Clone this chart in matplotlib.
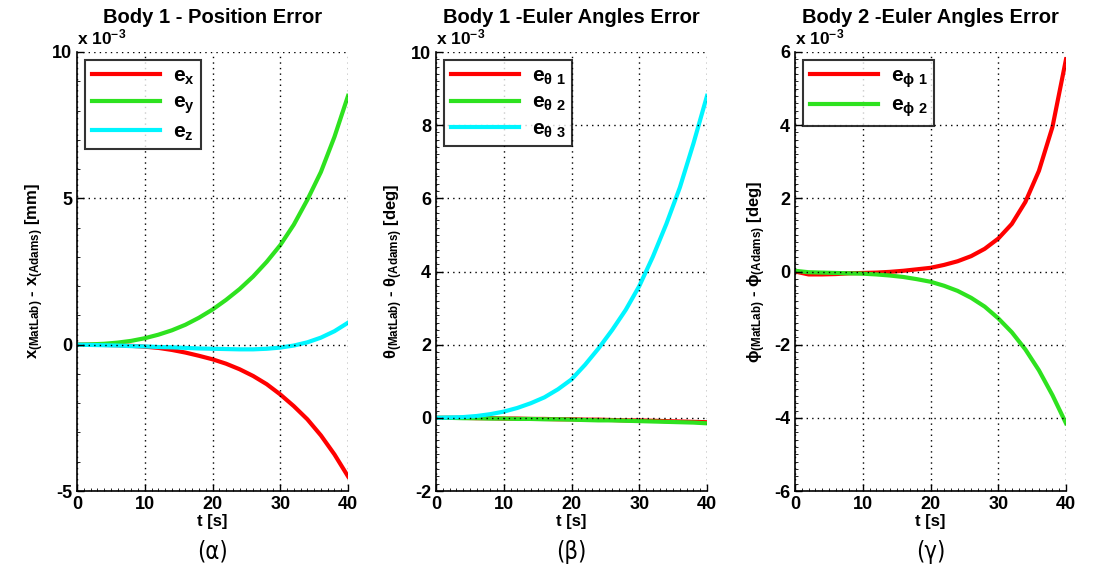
import matplotlib.pyplot as plt
from matplotlib.ticker import MultipleLocator

plt.rcParams['font.family'] = ['Liberation Sans', 'DejaVu Sans']
plt.rcParams['mathtext.fontset'] = 'custom'
plt.rcParams['mathtext.rm'] = 'Liberation Sans:bold'
plt.rcParams['mathtext.it'] = 'Liberation Sans:bold'
plt.rcParams['mathtext.bf'] = 'Liberation Sans:bold'
plt.rcParams['mathtext.default'] = 'bf'
plt.rcParams['axes.unicode_minus'] = False

# time samples [s]
t = [0, 2, 4, 6, 8, 10, 12, 14, 16, 18, 20, 22, 24, 26, 28, 30, 32, 34, 36, 38, 40]

# body 1 position error (x 10^-3 mm)
ex = [0, 0, -0.01, -0.02, -0.04, -0.07, -0.11, -0.18, -0.27, -0.38, -0.5,
      -0.65, -0.84, -1.07, -1.35, -1.7, -2.1, -2.55, -3.1, -3.75, -4.5]
ey = [0, 0.01, 0.03, 0.07, 0.13, 0.22, 0.34, 0.49, 0.68, 0.92, 1.2,
      1.53, 1.9, 2.33, 2.83, 3.4, 4.1, 4.95, 5.9, 7.1, 8.5]
ez = [0, -0.01, -0.02, -0.03, -0.05, -0.06, -0.08, -0.09, -0.11, -0.13, -0.14,
      -0.15, -0.16, -0.16, -0.14, -0.1, -0.03, 0.08, 0.24, 0.46, 0.75]

# body 1 euler angle error (x 10^-3 deg)
eth1 = [0, 0, 0, -0.01, -0.01, -0.02, -0.02, -0.03, -0.03, -0.04, -0.04,
        -0.05, -0.05, -0.06, -0.07, -0.07, -0.08, -0.09, -0.1, -0.11, -0.12]
eth2 = [0, 0, -0.01, -0.01, -0.02, -0.02, -0.03, -0.03, -0.04, -0.04, -0.05,
        -0.06, -0.07, -0.07, -0.08, -0.09, -0.1, -0.11, -0.12, -0.13, -0.15]
eth3 = [0, 0.01, 0.02, 0.05, 0.1, 0.17, 0.27, 0.4, 0.56, 0.78, 1.05,
        1.45, 1.9, 2.4, 2.95, 3.6, 4.4, 5.3, 6.3, 7.5, 8.8]

# body 2 euler angle error (x 10^-3 deg)
ephi1 = [0, -0.08, -0.08, -0.07, -0.05, -0.04, -0.03, -0.01, 0.02, 0.06, 0.1,
         0.18, 0.28, 0.42, 0.62, 0.9, 1.3, 1.9, 2.75, 3.95, 5.8]
ephi2 = [0.02, -0.02, -0.03, -0.04, -0.05, -0.06, -0.08, -0.11, -0.15, -0.21, -0.28,
         -0.39, -0.53, -0.72, -0.96, -1.28, -1.66, -2.13, -2.7, -3.38, -4.15]

red = '#ff0000'
green = '#2ee21f'
cyan = '#00f5ff'

fig = plt.figure(figsize=(11.05, 5.70), dpi=100)
lefts = [77 / 1105, 436 / 1105, 795 / 1105]
w = 271 / 1105
b = 1 - 491 / 570
h = 439 / 570

panels = [
    ('Body 1 - Position Error', [(ex, red, r'$e_x$'), (ey, green, r'$e_y$'), (ez, cyan, r'$e_z$')],
     (-5, 10), 5, 1, r'$x_{(MatLab)}$ - $x_{(Adams)}$ [mm]', '(α)'),
    ('Body 1 -Euler Angles Error', [(eth1, red, r'$e_{\theta\ 1}$'), (eth2, green, r'$e_{\theta\ 2}$'), (eth3, cyan, r'$e_{\theta\ 3}$')],
     (-2, 10), 2, 0.2, r'$\theta_{(MatLab)}$ - $\theta_{(Adams)}$ [deg]', '(β)'),
    ('Body 2 -Euler Angles Error', [(ephi1, red, r'$e_{\phi\ 1}$'), (ephi2, green, r'$e_{\phi\ 2}$')],
     (-6, 6), 2, 0.2, r'$\phi_{(MatLab)}$ - $\phi_{(Adams)}$ [deg]', '(γ)'),
]

for left, (title, series, ylim, ystep, yminor, ylabel, cap) in zip(lefts, panels):
    ax = fig.add_axes([left, b, w, h])
    for vals, col, lab in series:
        ax.plot(t, vals, color=col, lw=3, label=lab, solid_joinstyle='round')
    ax.set_xlim(0, 40)
    ax.set_ylim(*ylim)
    ax.xaxis.set_major_locator(MultipleLocator(10))
    ax.xaxis.set_minor_locator(MultipleLocator(1))
    ax.yaxis.set_major_locator(MultipleLocator(ystep))
    ax.yaxis.set_minor_locator(MultipleLocator(yminor))
    ax.tick_params(which='both', direction='in', top=False, right=False)
    ax.tick_params(which='major', length=5, width=1, labelsize=13)
    ax.tick_params(which='minor', length=2.5, width=0.6)
    for lbl in ax.get_xticklabels() + ax.get_yticklabels():
        lbl.set_fontweight('bold')
    ax.spines['top'].set_visible(False)
    ax.spines['right'].set_visible(False)
    ax.spines['left'].set_linewidth(1.2)
    ax.spines['bottom'].set_linewidth(1.2)
    ax.grid(True, which='major', color='black', linestyle=(0, (1, 3)), linewidth=1)
    ax.set_axisbelow(False)
    ax.set_title(title, fontsize=14.5, fontweight='bold', pad=21)
    ax.set_xlabel('t [s]', fontsize=12, fontweight='bold', labelpad=1)
    ax.set_ylabel(ylabel, fontsize=12, fontweight='bold', labelpad=4)
    ax.text(0.0, 1.01, r'x 10$^{-3}$', transform=ax.transAxes,
            fontsize=12.5, fontweight='bold', ha='left', va='bottom')
    leg = ax.legend(loc='upper left', prop={'size': 15, 'weight': 'bold'}, handlelength=3.3,
                    frameon=True, fancybox=False, borderaxespad=0.4, labelspacing=0.3,
                    borderpad=0.3, handletextpad=0.6)
    leg.get_frame().set_edgecolor('black')
    leg.get_frame().set_linewidth(1.5)
    fig.text(left + w / 2, 1 - 552 / 570, cap, fontsize=17, ha='center', va='center',
             family='DejaVu Sans', fontstretch='condensed')

fig.savefig('out.png', dpi=100)
